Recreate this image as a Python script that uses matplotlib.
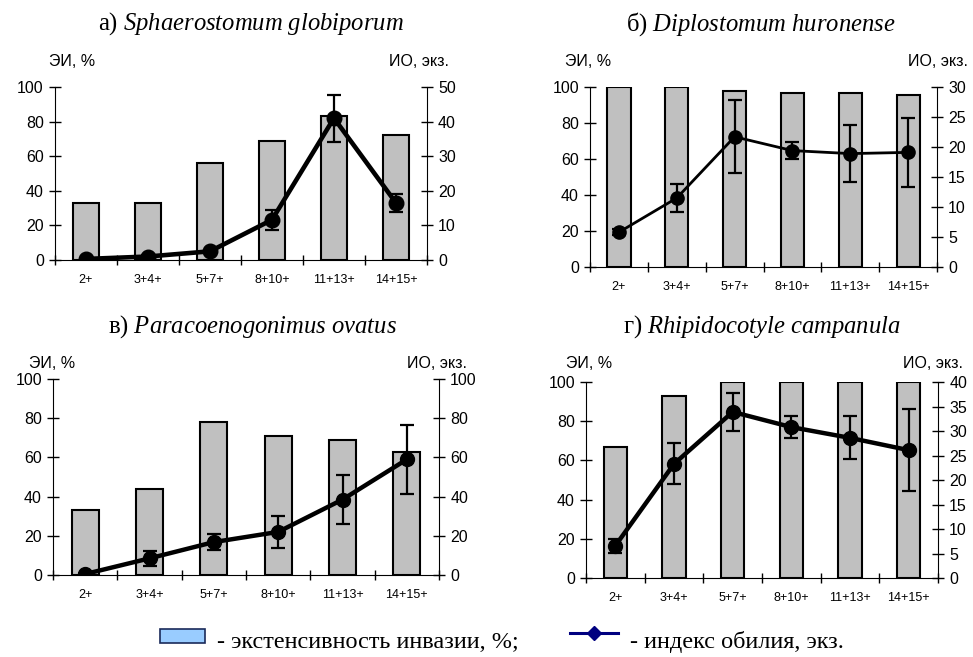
import matplotlib
matplotlib.use("Agg")
import matplotlib.pyplot as plt
import matplotlib.patches as patches
from matplotlib.lines import Line2D
from matplotlib.ticker import MultipleLocator, FixedLocator
import numpy as np

# ------------------ Данные ------------------
ages = ["2+", "3+4+", "5+7+", "8+10+", "11+13+", "14+15+"]

# а) Sphaerostomum globiporum
ei_a = [33, 33, 56, 69, 83, 72]
io_a = [0.3, 1.0, 2.5, 11.6, 41.0, 16.5]
err_a = [0.3, 0.3, 0.5, 2.8, 6.8, 2.5]

# б) Diplostomum huronense
ei_b = [100, 100, 98, 96.5, 96.5, 95.5]
io_b = [5.8, 11.5, 21.7, 19.4, 18.9, 19.1]
err_b = [0.5, 2.3, 6.1, 1.4, 4.7, 5.7]

# в) Paracoenogonimus ovatus
ei_c = [33, 44, 78, 71, 69, 63]
io_c = [0.5, 8.5, 16.8, 22.0, 38.5, 59.0]
err_c = [0.3, 3.8, 4.2, 8.3, 12.5, 17.6]

# г) Rhipidocotyle campanula
ei_d = [67, 93, 100, 100, 100, 100]
io_d = [6.6, 23.3, 33.9, 30.8, 28.6, 26.1]
err_d = [1.4, 4.2, 3.8, 2.3, 4.4, 8.3]

# ------------------ Стиль ------------------
plt.rcParams["font.family"] = "Liberation Sans"
plt.rcParams["mathtext.fontset"] = "custom"
plt.rcParams["mathtext.rm"] = "Liberation Serif"
plt.rcParams["mathtext.it"] = "Liberation Serif:italic"

fig = plt.figure(figsize=(9.73, 6.57), dpi=100)

# (rect, title, ei, io, err, right max, right step, bar width, lw, ms, title pos, label pos)
panels = [
    ([0.0565, 0.6043, 0.3823, 0.2633], "а) $\\mathit{Sphaerostomum\\ globiporum}$",
     ei_a, io_a, err_a, 50, 10, 0.42, 3.3, 10.5, (251, 24), (72, 419, 62)),
    ([0.6064, 0.5936, 0.3566, 0.2740], "б) $\\mathit{Diplostomum\\ huronense}$",
     ei_b, io_b, err_b, 30, 5, 0.40, 2.0, 9.5, (761, 24), (588, 938, 62)),
    ([0.0545, 0.1248, 0.3967, 0.2983], "в) $\\mathit{Paracoenogonimus\\ ovatus}$",
     ei_c, io_c, err_c, 100, 20, 0.42, 3.2, 10.0, (252, 327), (52, 437, 363)),
    ([0.6023, 0.1202, 0.3618, 0.2983], "г) $\\mathit{Rhipidocotyle\\ campanula}$",
     ei_d, io_d, err_d, 40, 5, 0.40, 3.2, 10.0, (762, 327), (589, 933, 363)),
]

W, H = 973.0, 657.0
x = np.arange(len(ages))

for rect, title, ei, io, err, rmax, rstep, bw, lw, ms, tpos, lpos in panels:
    ax = fig.add_axes(rect)
    ax.bar(x, ei, width=bw, color="#c0c0c0", edgecolor="black", linewidth=1.5, zorder=2)
    ax.set_xlim(-0.5, len(ages) - 0.5)
    ax.set_ylim(0, 100)
    ax.yaxis.set_major_locator(MultipleLocator(20))
    ax.set_xticks(x)
    ax.set_xticklabels(ages, fontsize=9)
    ax.xaxis.set_minor_locator(FixedLocator(np.arange(-0.5, len(ages), 1.0)))
    ax.tick_params(axis="x", which="major", length=0, pad=10)
    ax.tick_params(axis="x", which="minor", direction="inout", length=7, width=1)
    ax.tick_params(axis="y", direction="inout", length=9, width=1, labelsize=11.5)
    ax.spines["top"].set_visible(False)
    ax.spines["right"].set_visible(False)

    ax2 = ax.twinx()
    ax2.set_ylim(0, rmax)
    ax2.yaxis.set_major_locator(MultipleLocator(rstep))
    ax2.tick_params(axis="y", direction="inout", length=9, width=1, labelsize=11.5)
    ax2.spines["top"].set_visible(False)
    ax2.spines["left"].set_visible(False)
    ax2.spines["bottom"].set_visible(False)
    ax2.errorbar(x, io, yerr=err, color="black", linewidth=lw, marker="o",
                 markersize=ms, elinewidth=1.6, capsize=5, capthick=1.6, zorder=5)

    fig.text(tpos[0] / W, 1 - tpos[1] / H, title, ha="center", va="center",
             fontsize=17.7, family="Liberation Serif")
    fig.text(lpos[0] / W, 1 - lpos[2] / H, "ЭИ, %", ha="center", va="center", fontsize=11.5)
    fig.text(lpos[1] / W, 1 - lpos[2] / H, "ИО, экз.", ha="center", va="center", fontsize=11.5)

# ------------------ Легенда ------------------
fig.patches.append(patches.Rectangle((160 / W, 1 - 643 / H), 45 / W, 14 / H,
                                     transform=fig.transFigure, facecolor="#99ccff",
                                     edgecolor="#1a2a5a", linewidth=1.2))
fig.text(217 / W, 1 - 648 / H, "- экстенсивность инвазии, %;", ha="left", va="baseline",
         fontsize=17.5, family="Liberation Serif")
fig.lines.append(Line2D([570 / W, 618 / W], [1 - 633 / H, 1 - 633 / H],
                        transform=fig.transFigure, color="#000080", linewidth=2.2))
fig.lines.append(Line2D([594 / W], [1 - 633 / H], transform=fig.transFigure,
                        color="#000080", marker="D", markersize=7, linestyle="none"))
fig.text(630 / W, 1 - 648 / H, "- индекс обилия, экз.", ha="left", va="baseline",
         fontsize=17.5, family="Liberation Serif")

fig.savefig("out.png", dpi=100)
